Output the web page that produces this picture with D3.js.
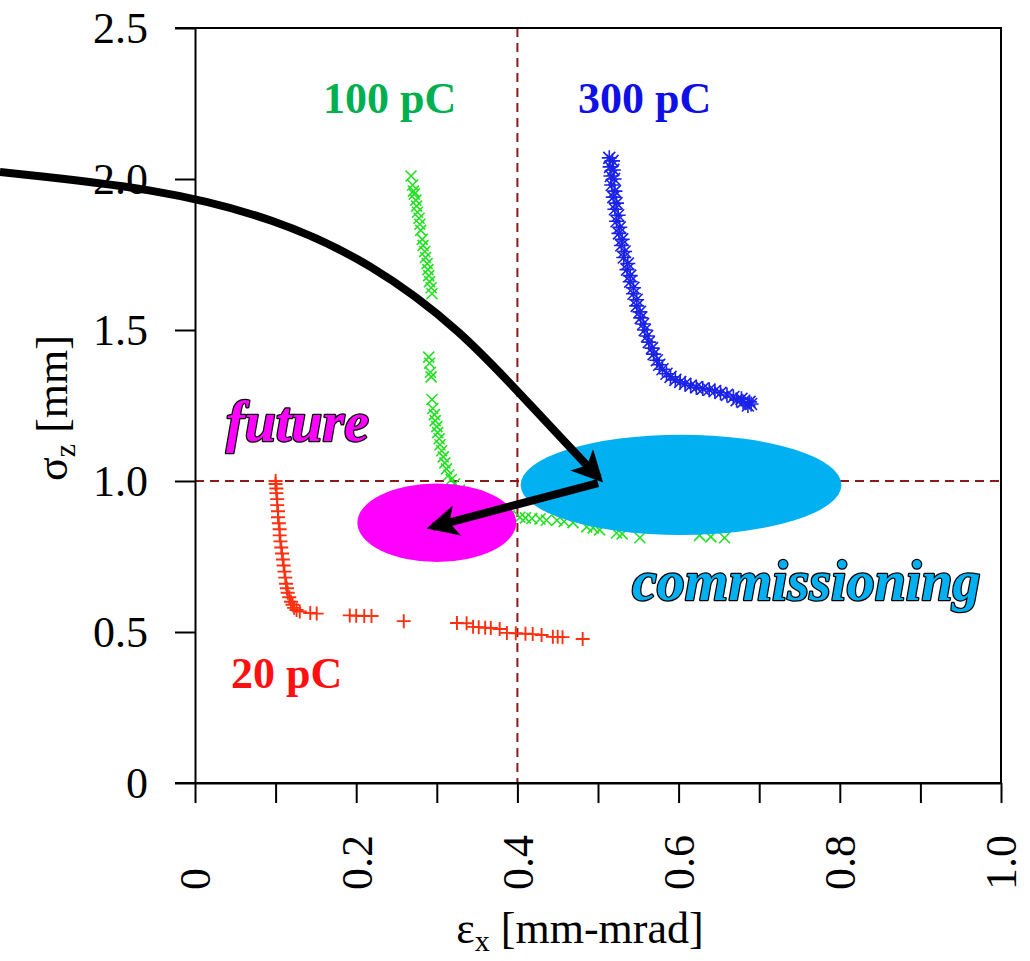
<!DOCTYPE html>
<html>
<head>
<meta charset="utf-8">
<script src="https://cdn.jsdelivr.net/npm/d3@7"></script>
<style>
  body { margin: 0; background: #fff; }
  svg { display: block; font-family: "Liberation Serif", "Times New Roman", serif; }
  .tick text { font-size: 44px; fill: #000; font-family: "Liberation Serif", "Times New Roman", serif; }
  .label { font-weight: bold; font-size: 44px; }
  .tag { font-weight: bold; font-style: italic; font-size: 56px;
         stroke: #000; stroke-width: 2.5px; paint-order: stroke; stroke-linejoin: round; }
</style>
</head>
<body>
<svg id="chart"></svg>
<script>
// tick values
const xTicks = [0, 0.1, 0.2, 0.3, 0.4, 0.5, 0.6, 0.7, 0.8, 0.9, 1.0];
const xTickLabels = ['0', '', '0.2', '', '0.4', '', '0.6', '', '0.8', '', '1.0'];
const yTicks = [0, 0.5, 1.0, 1.5, 2.0, 2.5];
const yTickLabels = ['0', '0.5', '1.0', '1.5', '2.0', '2.5'];

// 20 pC  [emittance, bunch length]
const q20 = [
  [0.100, 1.00], [0.100, 0.99], [0.101, 0.975], [0.101, 0.96], [0.102, 0.94], [0.102, 0.92],
  [0.103, 0.90], [0.103, 0.88], [0.104, 0.86], [0.105, 0.84], [0.105, 0.82], [0.106, 0.80],
  [0.107, 0.78], [0.108, 0.76], [0.109, 0.74], [0.110, 0.72], [0.111, 0.70], [0.112, 0.68],
  [0.113, 0.66], [0.114, 0.645], [0.115, 0.63], [0.117, 0.615], [0.119, 0.60], [0.121, 0.59],
  [0.123, 0.58], [0.126, 0.573], [0.130, 0.568], [0.143, 0.563], [0.151, 0.561],
  [0.192, 0.555], [0.200, 0.554], [0.210, 0.553], [0.219, 0.553], [0.259, 0.536],
  [0.325, 0.530], [0.337, 0.529], [0.345, 0.517], [0.352, 0.516], [0.360, 0.514], [0.367, 0.513],
  [0.378, 0.510], [0.387, 0.497], [0.398, 0.496], [0.410, 0.494], [0.419, 0.493], [0.430, 0.490],
  [0.444, 0.484], [0.450, 0.484], [0.456, 0.483], [0.481, 0.477]
];

// 100 pC
const q100 = [
  [0.268, 2.01], [0.270, 1.98], [0.271, 1.96], [0.272, 1.95], [0.274, 1.93], [0.275, 1.91],
  [0.276, 1.89], [0.278, 1.87], [0.279, 1.85], [0.280, 1.83], [0.282, 1.80], [0.283, 1.78],
  [0.285, 1.76], [0.286, 1.74], [0.288, 1.72], [0.289, 1.70], [0.290, 1.68], [0.291, 1.66],
  [0.293, 1.64], [0.294, 1.62], [0.290, 1.41], [0.291, 1.39], [0.292, 1.36], [0.293, 1.345],
  [0.294, 1.27], [0.295, 1.24], [0.297, 1.22], [0.298, 1.20], [0.300, 1.18], [0.301, 1.16],
  [0.303, 1.14], [0.304, 1.12], [0.306, 1.10], [0.308, 1.08], [0.310, 1.06], [0.312, 1.04],
  [0.315, 1.02], [0.318, 1.005], [0.322, 0.99], [0.328, 0.97], [0.335, 0.955], [0.345, 0.94],
  [0.355, 0.925], [0.365, 0.91], [0.380, 0.895], [0.390, 0.885], [0.403, 0.880], [0.410, 0.878],
  [0.418, 0.876], [0.428, 0.874], [0.436, 0.870], [0.449, 0.870], [0.458, 0.866], [0.469, 0.862],
  [0.486, 0.848], [0.494, 0.845], [0.502, 0.838], [0.523, 0.828], [0.530, 0.825], [0.552, 0.812],
  [0.580, 0.850], [0.600, 0.850], [0.626, 0.820], [0.640, 0.815], [0.657, 0.812]
];

// 300 pC
const q300 = [
  [0.514, 2.07], [0.518, 2.06], [0.515, 2.04], [0.519, 2.03], [0.516, 2.01], [0.520, 2.00],
  [0.517, 1.98], [0.521, 1.96], [0.519, 1.94], [0.523, 1.92], [0.521, 1.90], [0.525, 1.88],
  [0.523, 1.86], [0.527, 1.84], [0.526, 1.82], [0.530, 1.80], [0.529, 1.78], [0.533, 1.76],
  [0.532, 1.74], [0.537, 1.72], [0.536, 1.70], [0.540, 1.68], [0.540, 1.66], [0.544, 1.64],
  [0.544, 1.62], [0.548, 1.60], [0.548, 1.58], [0.552, 1.56], [0.553, 1.54], [0.556, 1.52],
  [0.558, 1.50], [0.561, 1.48], [0.563, 1.46], [0.567, 1.44], [0.569, 1.42], [0.573, 1.40],
  [0.576, 1.385], [0.580, 1.37], [0.585, 1.355], [0.590, 1.345], [0.596, 1.335], [0.602, 1.328],
  [0.608, 1.322], [0.615, 1.316], [0.622, 1.310], [0.630, 1.306], [0.638, 1.302], [0.645, 1.298],
  [0.652, 1.292], [0.660, 1.285], [0.668, 1.278], [0.678, 1.272], [0.672, 1.268], [0.680, 1.262],
  [0.688, 1.262], [0.686, 1.250], [0.690, 1.255]
];

// regions: [cx, cy, rx, ry] in data units
const futureRegion = [0.3, 0.862, 0.0985, 0.13];
const commissioningRegion = [0.603, 0.987, 0.199, 0.166];

// annotation arrows in data units
const bigArrow = [[-0.242, 2.023], [-0.05, 1.97], [0.10, 1.87], [0.22, 1.72],
                  [0.33, 1.50], [0.42, 1.24], [0.501, 1.01]];
const smallArrow = [[0.5, 0.993], [0.295, 0.848]];

const width = 1030, height = 961;
const margin = { top: 28, right: 29, bottom: 178, left: 195 };
const innerW = width - margin.left - margin.right,
      innerH = height - margin.top - margin.bottom;

const svg = d3.select('#chart').attr('width', width).attr('height', height);

const x = d3.scaleLinear().domain([0, 1]).range([margin.left, margin.left + innerW]);
const y = d3.scaleLinear().domain([0, 2.5]).range([margin.top + innerH, margin.top]);

// arrow head
svg.append('defs').append('marker')
    .attr('id', 'head')
    .attr('viewBox', '0 0 10 10')
    .attr('refX', 8).attr('refY', 5)
    .attr('markerWidth', 4.8).attr('markerHeight', 3.9)
    .attr('markerUnits', 'strokeWidth')
    .attr('orient', 'auto')
    .append('path')
    .attr('d', 'M0,0 L10,5 L0,10 L2.5,5 Z')
    .attr('fill', '#000');

// dashed reference lines
svg.append('line')
    .attr('x1', x(0.4)).attr('x2', x(0.4))
    .attr('y1', y(2.5)).attr('y2', y(0))
    .attr('stroke', '#8b1a1a').attr('stroke-width', 2).attr('stroke-dasharray', '9,6');
svg.append('line')
    .attr('x1', x(0)).attr('x2', x(1))
    .attr('y1', y(1)).attr('y2', y(1))
    .attr('stroke', '#8b1a1a').attr('stroke-width', 2).attr('stroke-dasharray', '9,6');

// markers
function plus(g, data, color, s, w) {
  g.selectAll(null).data(data).enter().append('path')
    .attr('d', d => `M${x(d[0]) - s},${y(d[1])}h${2 * s}M${x(d[0])},${y(d[1]) - s}v${2 * s}`)
    .attr('stroke', color).attr('stroke-width', w).attr('fill', 'none');
}
function cross(g, data, color, s, w) {
  g.selectAll(null).data(data).enter().append('path')
    .attr('d', d => `M${x(d[0]) - s},${y(d[1]) - s}l${2 * s},${2 * s}M${x(d[0]) - s},${y(d[1]) + s}l${2 * s},${-2 * s}`)
    .attr('stroke', color).attr('stroke-width', w).attr('fill', 'none');
}
function star(g, data, color, s) {
  plus(g, data, color, s, 1.6);
  cross(g, data, color, s * 0.8, 1.6);
}

const pts = svg.append('g');
cross(pts, q100, '#22e022', 5.5, 1.6);
plus(pts, q20, '#ff3010', 7, 1.9);
star(pts, q300, '#1a22e8', 7.5);

// regions
svg.append('ellipse')
    .attr('cx', x(futureRegion[0])).attr('cy', y(futureRegion[1]))
    .attr('rx', x(futureRegion[2]) - x(0)).attr('ry', y(0) - y(futureRegion[3]))
    .attr('fill', '#ff00ff');
svg.append('ellipse')
    .attr('cx', x(commissioningRegion[0])).attr('cy', y(commissioningRegion[1]))
    .attr('rx', x(commissioningRegion[2]) - x(0)).attr('ry', y(0) - y(commissioningRegion[3]))
    .attr('fill', '#00b0f0');

// axes
const yAxis = d3.axisLeft(y).tickValues(yTicks).tickSize(20).tickSizeOuter(0)
    .tickFormat((d, i) => yTickLabels[i]);
const gy = svg.append('g')
    .attr('transform', `translate(${margin.left},0)`)
    .call(yAxis);
gy.selectAll('.tick text').attr('x', -47);

const xAxis = d3.axisBottom(x).tickValues(xTicks).tickSize(20).tickSizeOuter(0)
    .tickFormat((d, i) => xTickLabels[i]);
const gx = svg.append('g')
    .attr('transform', `translate(0,${margin.top + innerH})`)
    .call(xAxis);
gx.selectAll('.tick text')
    .attr('transform', 'rotate(-90)')
    .attr('x', -107).attr('y', 0).attr('dy', '0.34em')
    .attr('text-anchor', 'start');

svg.selectAll('.domain, .tick line').attr('stroke', '#000').attr('stroke-width', 2);

// frame
svg.append('path')
    .attr('d', `M${x(0) - 20},${y(0)}H${x(1)}V${y(2.5)}H${x(0) - 20}`)
    .attr('fill', 'none').attr('stroke', '#000').attr('stroke-width', 2);

// axis titles
const xt = svg.append('text')
    .attr('x', 580).attr('y', 943)
    .attr('text-anchor', 'middle').attr('font-size', 44);
xt.append('tspan').text('ε');
xt.append('tspan').attr('font-size', 30).attr('dy', 8).text('x');
xt.append('tspan').attr('dy', -8).text(' [mm-mrad]');

const yt = svg.append('text')
    .attr('transform', 'translate(67,408) rotate(-90)')
    .attr('text-anchor', 'middle').attr('font-size', 44);
yt.append('tspan').text('σ');
yt.append('tspan').attr('font-size', 30).attr('dy', 8).text('z');
yt.append('tspan').attr('dy', -8).text(' [mm]');

// series labels
svg.append('text').attr('class', 'label').attr('x', 323).attr('y', 113)
    .attr('fill', '#00b050').text('100 pC');
svg.append('text').attr('class', 'label').attr('x', 578).attr('y', 113)
    .attr('fill', '#0f0fe8').text('300 pC');
svg.append('text').attr('class', 'label').attr('x', 231).attr('y', 688)
    .attr('fill', '#ff1010').text('20 pC');

svg.append('text').attr('class', 'tag').attr('x', 226).attr('y', 441)
    .attr('fill', '#ff00ff').text('future');
svg.append('text').attr('class', 'tag').attr('x', 632).attr('y', 600)
    .attr('fill', '#00b0f0').text('commissioning');

// arrows
const line = d3.line().x(d => x(d[0])).y(d => y(d[1])).curve(d3.curveBasis);
svg.append('path')
    .attr('d', line(bigArrow))
    .attr('fill', 'none').attr('stroke', '#000').attr('stroke-width', 8)
    .attr('marker-end', 'url(#head)');
svg.append('path')
    .attr('d', d3.line().x(d => x(d[0])).y(d => y(d[1]))(smallArrow))
    .attr('fill', 'none').attr('stroke', '#000').attr('stroke-width', 8)
    .attr('marker-end', 'url(#head)');
</script>
</body>
</html>
